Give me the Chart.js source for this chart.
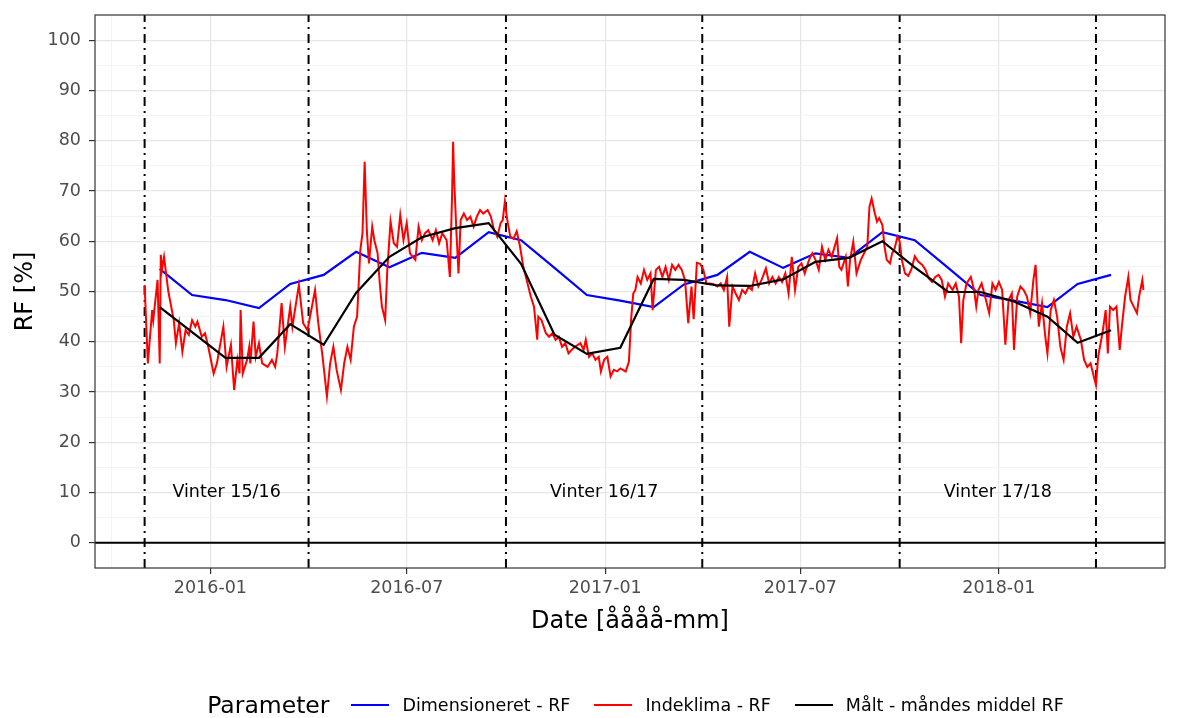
<!DOCTYPE html>
<html lang="da">
<head>
<meta charset="UTF-8">
<title>RF - Indeklima</title>
<script src="https://cdn.jsdelivr.net/npm/chart.js"></script>
<style>
    html, body { margin: 0; padding: 0; background: #fff; }
    .ramme { position: relative; width: 1181px; height: 718px; overflow: hidden; }
    #legende {
        position: absolute; left: 45px; top: 690px; width: 1181px; height: 30px;
        display: flex; justify-content: center; align-items: center;
        font-family: "DejaVu Sans", sans-serif; color: #000;
    }
    #legende .titel { font-size: 23.5px; margin-right: 22px; }
    #legende .noegle { width: 38px; height: 2.5px; margin-right: 13px; }
    #legende .tekst { font-size: 17.5px; margin-right: 24px; }
    #legende .tekst:last-child { margin-right: 0; }
</style>
</head>
<body>
<div class="ramme">
    <canvas id="graf" width="1181" height="718"></canvas>
    <div id="legende"></div>
</div>

<script>
    // dage regnes fra 2016-01-01
    const nul = Date.UTC(2016, 0, 1);
    function dag(iso) { return Math.round((Date.parse(iso + 'T00:00:00Z') - nul) / 86400000); }

    // månedlige værdier (midt i måneden)
    const maaneder = ['2015-11', '2015-12', '2016-01', '2016-02', '2016-03', '2016-04', '2016-05', '2016-06',
        '2016-07', '2016-08', '2016-09', '2016-10', '2016-11', '2016-12', '2017-01', '2017-02', '2017-03',
        '2017-04', '2017-05', '2017-06', '2017-07', '2017-08', '2017-09', '2017-10', '2017-11', '2017-12',
        '2018-01', '2018-02', '2018-03', '2018-04'];
    const dimensioneretRF = [54.5, 49.3, 48.3, 46.7, 51.5, 53.3, 57.9, 54.8, 57.7, 56.7, 61.8, 60.2, 54.7, 49.3,
        48.2, 46.9, 51.4, 53.3, 57.9, 54.7, 57.6, 56.7, 61.8, 60.2, 54.7, 49.3, 48.2, 46.9, 51.5, 53.3];
    const maaltMiddelRF = [46.9, 41.9, 36.8, 36.8, 43.5, 39.4, 49.7, 56.9, 60.8, 62.6, 63.6, 55.5, 41.4, 37.6,
        38.8, 52.5, 52.3, 51.2, 51.1, 52.4, 55.9, 56.7, 60.0, 54.8, 49.9, 49.9, 48.0, 45.0, 39.8, 42.3];

    // indeklima, dag nr. og RF
    const indeklimaDage = [
        -61, -58, -54, -53, -49, -47, -46, -45, -43, -39,
        -34, -32, -29, -26, -23, -20, -17, -14, -12, -8,
        -5, -2, 3, 6, 12, 15, 19, 22, 25, 27,
        28, 30, 34, 36, 37, 40, 42, 45, 48, 53,
        57, 60, 62, 66, 69, 74, 76, 82, 86, 90,
        97, 100, 104, 108, 111, 114, 117, 121, 124, 127,
        130, 133, 136, 139, 141, 143, 145, 147, 150, 152,
        155, 157, 159, 162, 164, 167, 170, 173, 176, 179,
        182, 185, 190, 193, 196, 199, 202, 206, 209, 212,
        215, 219, 222, 224, 225, 226, 228, 230, 232, 235,
        238, 241, 244, 247, 250, 253, 257, 260, 263, 266,
        269, 271, 273, 275, 278, 281, 284, 287, 290, 293,
        297, 300, 303, 304, 307, 311, 314, 317, 320, 323,
        326, 329, 332, 335, 338, 343, 346, 348, 351, 354,
        357, 360, 362, 365, 368, 371, 374, 377, 380, 385,
        388, 390, 392, 394, 396, 399, 402, 405, 408, 410,
        413, 416, 419, 422, 425, 428, 431, 434, 437, 440,
        443, 446, 448, 451, 454, 457, 460, 463, 466, 470,
        473, 476, 479, 481, 484, 487, 490, 493, 496, 499,
        502, 505, 508, 511, 515, 518, 521, 524, 527, 530,
        533, 536, 539, 542, 545, 548, 551, 555, 558, 561,
        564, 567, 570, 573, 576, 581, 583, 585, 589, 591,
        593, 596, 599, 603, 606, 609, 611, 613, 616, 618,
        620, 623, 625, 627, 630, 632, 634, 637, 639, 641,
        644, 647, 650, 653, 656, 660, 663, 666, 669, 672,
        675, 678, 681, 684, 688, 691, 694, 696, 698, 701,
        705, 708, 710, 712, 715, 719, 722, 725, 728, 731,
        734, 737, 740, 743, 745, 748, 751, 754, 757, 760,
        763, 765, 768, 771, 774, 776, 779, 782, 785, 788,
        791, 794, 797, 800, 803, 807, 810, 813, 816, 819,
        821, 823, 827, 830, 832, 834, 837, 840, 843, 845,
        848, 851, 853, 856, 859, 861, 864, 865
    ];
    const indeklimaRF = [
        51.3, 35.7, 46.3, 44.3, 52.3, 35.7, 57.3, 54.3, 56.9, 50,
        44.3, 39.7, 43.7, 38, 42.3, 41.4, 44.3, 43, 44, 41,
        41.7, 39, 33.7, 35.7, 43, 35, 39.4, 30.4, 36.4, 33.7,
        46.3, 33.7, 36.4, 39, 35.7, 44, 37, 39.7, 35.7, 35,
        36.4, 35, 37.7, 47.7, 39, 47, 43, 51.3, 43.7, 42.3,
        50.3, 43.7, 37, 29.1, 35.7, 39, 34.4, 30.4, 35.7, 39,
        36.4, 43, 45, 58.3, 61.6, 75.8, 62.2, 55.6, 62.9, 60.2,
        57.6, 51.6, 47, 44.3, 54.3, 63.9, 59.6, 58.9, 65.2, 60.2,
        63.6, 57.6, 56.3, 62.9, 60.2, 61.6, 62.2, 60.2, 62.2, 59.6,
        61.6, 60.2, 52.9, 68.8, 79.8, 72.2, 62.2, 53.6, 64.2, 65.5,
        64.2, 64.9, 62.9, 64.9, 66.2, 65.5, 66.2, 64.9, 62.2, 60.9,
        63.6, 64.2, 67.9, 64.5, 60.9, 60.5, 62, 59, 55, 52.5,
        49, 47, 40.4, 45, 44.3, 41.7, 41, 41.7, 40.4, 41,
        39, 39.7, 37.7, 38.4, 39, 39.7, 38.4, 40.4, 37, 37.7,
        36.4, 37, 34.1, 36.4, 37, 33.1, 34.4, 34.1, 34.7, 34.1,
        36, 44.3, 49.6, 50.3, 52.9, 51.6, 54.3, 52.3, 53.6, 46.3,
        54.3, 54.9, 52.9, 54.9, 52.3, 55.3, 54.3, 55.3, 54.3, 52.3,
        43.7, 51, 44.5, 55.7, 55.5, 54.3, 51.5, 51.6, 51.5, 51,
        51.6, 50.3, 52.9, 43, 51, 49.6, 48.3, 50.3, 49.6, 51,
        50.3, 53.6, 51, 52.3, 54.6, 51.6, 52.9, 51.6, 52.9, 51.9,
        53.6, 49.6, 56.9, 50.3, 54.9, 55.6, 53.6, 56.3, 57.6, 56.3,
        54.3, 58.9, 56.3, 58.3, 56.9, 60.6, 54.9, 54.3, 56.9, 51,
        56.3, 59.9, 53.6, 56.3, 57.6, 58.9, 66.9, 68.5, 65.5, 63.9,
        64.6, 63.2, 58.9, 56.3, 55.6, 57.6, 58.3, 60.9, 60, 56.3,
        53.6, 53.1, 54.5, 57, 56, 55.3, 54.3, 52.6, 51.9, 52.9,
        53.3, 52.3, 49, 51.6, 50.3, 51.6, 49, 39.7, 48.3, 51.6,
        52.9, 50.3, 47, 50.3, 51.6, 48.3, 45.7, 51.6, 50.3, 51.9,
        50.3, 39.4, 48.3, 49.6, 38.4, 49, 51, 50.3, 49, 45.7,
        52.3, 55.3, 43, 47.7, 41, 37.7, 46.3, 48.3, 45, 39,
        36.4, 43, 45.7, 41, 43, 40.4, 36.4, 35, 35.7, 33.1,
        31.4, 37, 41.7, 46.3, 37.7, 47, 46.3, 47, 38.4, 43,
        49, 52.9, 48.3, 47, 45.7, 49, 52.3, 50.3
    ];

    // vinterperioder
    const vinterGraenser = ['2015-11-01', '2016-04-01', '2016-10-01', '2017-04-01', '2017-10-01', '2018-04-01'];
    const vinterTekster = ['Vinter 15/16', 'Vinter 16/17', 'Vinter 17/18'];
    const vinterTekstDato = ['2016-01-16', '2016-12-31', '2017-12-31'];
    const vinterTekstRF = 10;

    // akser
    const xStart = '2015-09-16';
    const xSlut = '2018-06-04';
    const xTickLabels = ['2016-01', '2016-07', '2017-01', '2017-07', '2018-01'];
    const xMinorLabels = ['2015-10', '2016-04', '2016-10', '2017-04', '2017-10', '2018-04'];
    const yMin = -5, yMax = 105;
    const yTicks = [0, 10, 20, 30, 40, 50, 60, 70, 80, 90, 100];
    const yMinor = [5, 15, 25, 35, 45, 55, 65, 75, 85, 95];

    const serieNavne = ['Dimensioneret - RF', 'Indeklima - RF', 'Målt - måndes middel RF'];
    const serieFarver = ['#0000ff', '#ff0000', '#000000'];

    const xMajor = xTickLabels.map(m => dag(m + '-01'));
    const xMinor = xMinorLabels.map(m => dag(m + '-01'));
    const maanedDag = maaneder.map(m => dag(m + '-15'));

    const datasets = [
        {
            label: serieNavne[2],
            data: maanedDag.map((d, i) => ({ x: d, y: maaltMiddelRF[i] })),
            borderColor: serieFarver[2], borderWidth: 2.2, order: 0
        },
        {
            label: serieNavne[1],
            data: indeklimaDage.map((d, i) => ({ x: d, y: indeklimaRF[i] })),
            borderColor: serieFarver[1], borderWidth: 2, order: 1
        },
        {
            label: serieNavne[0],
            data: maanedDag.map((d, i) => ({ x: d, y: dimensioneretRF[i] })),
            borderColor: serieFarver[0], borderWidth: 2.2, order: 2
        },
        {
            label: 'nul',
            data: [{ x: dag(xStart), y: 0 }, { x: dag(xSlut), y: 0 }],
            borderColor: '#000', borderWidth: 2, order: 3
        }
    ];
    vinterGraenser.forEach(g => {
        datasets.push({
            label: 'vinter',
            data: [{ x: dag(g), y: yMin }, { x: dag(g), y: yMax }],
            borderColor: '#000', borderWidth: 2, borderDash: [9, 5, 2, 5], order: 4
        });
    });

    const skrift = '"DejaVu Sans", sans-serif';

    const rammePlugin = {
        id: 'ramme',
        afterDatasetsDraw(chart) {
            const { ctx, chartArea: a, scales } = chart;
            ctx.save();
            // vintertekster
            ctx.fillStyle = '#000';
            ctx.font = '17.5px ' + skrift;
            ctx.textAlign = 'center';
            ctx.textBaseline = 'middle';
            vinterTekster.forEach((t, i) => {
                ctx.fillText(t, scales.x.getPixelForValue(dag(vinterTekstDato[i])), scales.y.getPixelForValue(vinterTekstRF));
            });
            // panelramme
            ctx.strokeStyle = '#333333';
            ctx.lineWidth = 1.2;
            ctx.strokeRect(a.left, a.top, a.right - a.left, a.bottom - a.top);
            ctx.restore();
        }
    };

    new Chart(document.getElementById('graf'), {
        type: 'line',
        data: { datasets },
        options: {
            responsive: false,
            animation: false,
            events: [],
            layout: { padding: { top: 15, right: 16, bottom: 70, left: 0 } },
            elements: { point: { radius: 0 }, line: { tension: 0, fill: false } },
            plugins: { legend: { display: false }, tooltip: { enabled: false } },
            scales: {
                x: {
                    type: 'linear',
                    min: dag(xStart),
                    max: dag(xSlut),
                    afterBuildTicks: s => { s.ticks = xMinor.concat(xMajor).sort((a, b) => a - b).map(v => ({ value: v })); },
                    afterFit: s => { s.height = 80; s.paddingLeft = 0; s.paddingRight = 0; },
                    border: { display: false },
                    grid: {
                        color: c => xMajor.includes(c.tick.value) ? '#e6e6e6' : '#f1f1f1',
                        lineWidth: c => xMajor.includes(c.tick.value) ? 1.2 : 0.8,
                        tickColor: c => xMajor.includes(c.tick.value) ? '#333333' : 'rgba(0,0,0,0)',
                        tickLength: 6
                    },
                    ticks: {
                        autoSkip: false, maxRotation: 0, padding: 4,
                        color: '#4d4d4d', font: { family: skrift, size: 17.5 },
                        callback: v => { const i = xMajor.indexOf(v); return i >= 0 ? xTickLabels[i] : ''; }
                    },
                    title: {
                        display: true, text: 'Date [åååå-mm]', color: '#000',
                        font: { family: skrift, size: 24 }, padding: { top: 0, bottom: 11.6 }
                    }
                },
                y: {
                    type: 'linear',
                    min: yMin,
                    max: yMax,
                    afterBuildTicks: s => { s.ticks = yMinor.concat(yTicks).sort((a, b) => a - b).map(v => ({ value: v })); },
                    afterFit: s => { s.width = 95; s.paddingTop = 0; s.paddingBottom = 0; },
                    border: { display: false },
                    grid: {
                        color: c => yTicks.includes(c.tick.value) ? '#e6e6e6' : '#f1f1f1',
                        lineWidth: c => yTicks.includes(c.tick.value) ? 1.2 : 0.8,
                        tickColor: c => yTicks.includes(c.tick.value) ? '#333333' : 'rgba(0,0,0,0)',
                        tickLength: 6
                    },
                    ticks: {
                        autoSkip: false, padding: 8,
                        color: '#4d4d4d', font: { family: skrift, size: 17.5 },
                        callback: v => yTicks.includes(v) ? String(v) : ''
                    },
                    title: {
                        display: true, text: 'RF [%]', color: '#000',
                        font: { family: skrift, size: 24 }, padding: { top: 11.6, bottom: 0 }
                    }
                }
            }
        },
        plugins: [rammePlugin]
    });

    // legende under grafen
    const legende = document.getElementById('legende');
    legende.innerHTML = '<span class="titel">Parameter</span>' + serieNavne.map((n, i) =>
        '<span class="noegle" style="background:' + serieFarver[i] + '"></span><span class="tekst">' + n + '</span>'
    ).join('');
</script>
</body>
</html>
